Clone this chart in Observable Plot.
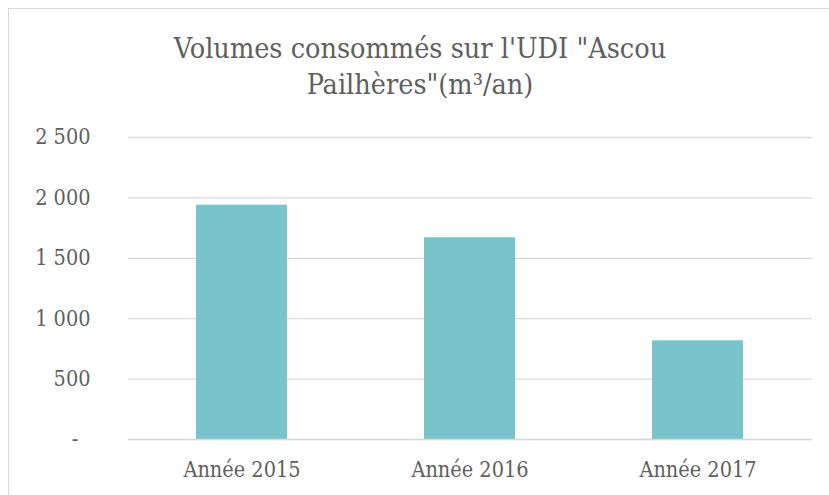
<!DOCTYPE html>
<html><head><meta charset="utf-8">
<script src="https://cdn.jsdelivr.net/npm/d3@7"></script>
<script src="https://cdn.jsdelivr.net/npm/@observablehq/plot@0.6"></script>
<style>
body{margin:0;background:#fff;width:829px;height:495px;overflow:hidden;position:relative;}
#frame{position:absolute;left:8px;top:8px;width:830px;height:500px;border-left:1.5px solid #d9d9d9;border-top:1.5px solid #d9d9d9;}
#title{position:absolute;left:0;top:31px;width:840px;text-align:center;font-family:"DejaVu Serif";font-stretch:condensed;font-size:28.5px;line-height:36px;color:#5f5f5f;}
#chart{position:absolute;left:0;top:0;}
</style></head>
<body>
<div id="frame"></div>
<div id="chart"></div>
<div id="title">Volumes consommés sur l'UDI "Ascou<br>Pailhères"(m³/an)</div>
<script>
const categories = ["Année 2015", "Année 2016", "Année 2017"];
const volumes = [1940, 1670, 817];
const yTicks = [0, 500, 1000, 1500, 2000, 2500];

const data = categories.map((c, i) => ({annee: c, volume: volumes[i]}));
const fr = d3.formatLocale({decimal: ",", thousands: "\u00a0", grouping: [3], currency: ["", " €"]});
const fmt = fr.format(",d");

const plot = Plot.plot({
  width: 829,
  height: 495,
  marginLeft: 128,
  marginRight: 17,
  marginTop: 137,
  marginBottom: 56,
  style: {fontFamily: "DejaVu Serif", fontStretch: "condensed", fontSize: "21.5px", color: "#5f5f5f", background: "transparent"},
  x: {domain: categories, paddingInner: 0.6, paddingOuter: 0.3, label: null, tickSize: 0, tickPadding: 22},
  y: {domain: [0, 2500], ticks: yTicks, label: null, tickSize: 0, tickPadding: 38,
      tickFormat: d => d === 0 ? "-\u00a0\u00a0" : fmt(d)},
  marks: [
    Plot.gridY(yTicks, {stroke: "#d9d9d9", strokeOpacity: 1, strokeWidth: 1.3}),
    Plot.barY(data, {x: "annee", y: "volume", fill: "#77C4CA"}),
    Plot.ruleY([0], {stroke: "#d9d9d9", strokeWidth: 1.3})
  ]
});
document.getElementById("chart").appendChild(plot);
</script>
</body></html>
